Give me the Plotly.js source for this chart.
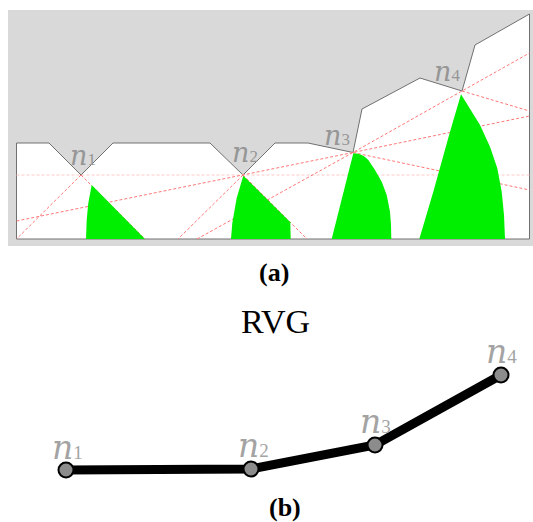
<!DOCTYPE html>
<html>
<head>
<meta charset="utf-8">
<script src="https://cdn.plot.ly/plotly-3.0.0.min.js"></script>
<style>html,body{margin:0;padding:0;background:#fff}#chart{width:533px;height:522px}</style>
</head>
<body>
<div id="chart"></div>
<script>
// Coordinates (image pixel space)
const backgroundX = [8, 533, 533, 8, 8];
const backgroundY = [10, 10, 246, 246, 10];
const freeSpaceX = [16.5, 49, 81, 113, 210, 243, 275, 308, 353, 362, 420, 462, 475, 529.5, 529.5, 16.5, 16.5];
const freeSpaceY = [143, 143, 175, 143, 143, 175, 143, 143, 152.5, 109, 78, 91, 45, 14, 239, 239, 143];

const horizontalX = [16.5, 529.5];
const horizontalY = [175, 175];
const rayA = {x: [81, 16.5], y: [175, 239]};
const rayB = {x: [81, 145], y: [175, 239]};
const rayC = {x: [16.5, 243, 353, 529.5], y: [221, 175, 152.5, 116]};
const rayD = {x: [243, 178], y: [175, 239]};
const rayE = {x: [243, 307], y: [175, 239]};
const rayF = {x: [197, 353, 462, 529.5], y: [239, 152.5, 91, 53]};
const rayG = {x: [353, 529.5], y: [152.5, 190]};
const rayH = {x: [462, 529.5], y: [91, 111]};
const rays = [rayA, rayB, rayC, rayD, rayE, rayF, rayG, rayH];

const green1X = [91.7, 145, 86, 86.7, 88.3, 91.7];
const green1Y = [185, 239, 239, 220, 203, 185];
const green2X = [243.3, 290.3, 290.7, 231, 232.3, 236.7, 243.3];
const green2Y = [175.7, 222.3, 239, 239, 223, 198, 175.7];
const green3X = [353.3, 358, 361.7, 365, 368.3, 375, 381.7, 386.7, 390, 391, 391.3, 331.7, 353.3];
const green3Y = [153.3, 153.8, 155, 157, 160, 170, 181.7, 195, 211.7, 225, 239, 239, 153.3];
const green4X = [461, 470, 480, 490, 497.3, 501.7, 504, 505, 419.3, 433.3, 443.3, 450, 461];
const green4Y = [94.3, 108.3, 125, 146.7, 168.3, 191.7, 215, 239, 239, 191.7, 155, 131.7, 94.3];
const greens = [[green1X, green1Y], [green2X, green2Y], [green3X, green3Y], [green4X, green4Y]];

const graphX = [66, 251, 375, 501];
const graphY = [470, 469, 445, 375];
const nodeDigits = ['1', '2', '3', '4'];
const topLabelX = [82.5, 244.5, 336.5, 447];
const topLabelY = [155, 152, 135, 71];
const bottomLabelX = [67, 253, 375, 501.5];
const bottomLabelY = [447, 445, 421, 351];
const captions = ['(a)', 'RVG', '(b)'];
const captionX = [274, 275, 285];
const captionY = [272, 321, 507.5];

const traces = [];
traces.push({x: backgroundX, y: backgroundY, mode: 'lines', fill: 'toself', fillcolor: '#d9d9d9', line: {width: 0}});
traces.push({x: freeSpaceX, y: freeSpaceY, mode: 'lines', fill: 'toself', fillcolor: '#ffffff', line: {color: '#707070', width: 1}});
traces.push({x: horizontalX, y: horizontalY, mode: 'lines', line: {color: '#ffc8c8', width: 1, dash: '3px,2px'}});
rays.forEach(r => traces.push({x: r.x, y: r.y, mode: 'lines', line: {color: '#ff7878', width: 1, dash: '3px,2px'}}));
greens.forEach(g => traces.push({x: g[0], y: g[1], mode: 'lines', fill: 'toself', fillcolor: '#00ee00', line: {width: 0}}));
traces.push({x: graphX, y: graphY, mode: 'lines', line: {color: '#000000', width: 9}});
traces.push({x: graphX, y: graphY, mode: 'markers', marker: {size: 15, color: '#8c8c8c', line: {color: '#000000', width: 2}}});

const annotations = [];
const label = (x, y, text, size, color, family) => annotations.push({x, y, xref: 'x', yref: 'y', text, showarrow: false,
  borderpad: 0, borderwidth: 0,
  font: {family: family || 'Liberation Serif', size, color}, xanchor: 'center', yanchor: 'middle'});
const nodeText = (d, sub) => '<i>n</i><span style="font-family:Liberation Serif;font-size:' + sub + 'px">' + d + '</span>';
nodeDigits.forEach((d, i) => label(topLabelX[i], topLabelY[i], nodeText(d, 17), 27, '#969696', 'DejaVu Serif'));
nodeDigits.forEach((d, i) => label(bottomLabelX[i], bottomLabelY[i], nodeText(d, 19), 33, '#a3a3a3', 'DejaVu Serif'));
label(captionX[0], captionY[0], '<b>' + captions[0] + '</b>', 26, '#000');
label(captionX[1], captionY[1], captions[1], 34, '#000');
label(captionX[2], captionY[2], '<b>' + captions[2] + '</b>', 26, '#000');

Plotly.newPlot('chart', traces, {
  width: 533, height: 522, showlegend: false,
  margin: {l: 0, r: 0, t: 0, b: 0, pad: 0},
  paper_bgcolor: '#fff', plot_bgcolor: '#fff',
  xaxis: {range: [0, 533], visible: false, fixedrange: true},
  yaxis: {range: [522, 0], visible: false, fixedrange: true},
  annotations
}, {displayModeBar: false, staticPlot: true});
</script>
</body>
</html>
